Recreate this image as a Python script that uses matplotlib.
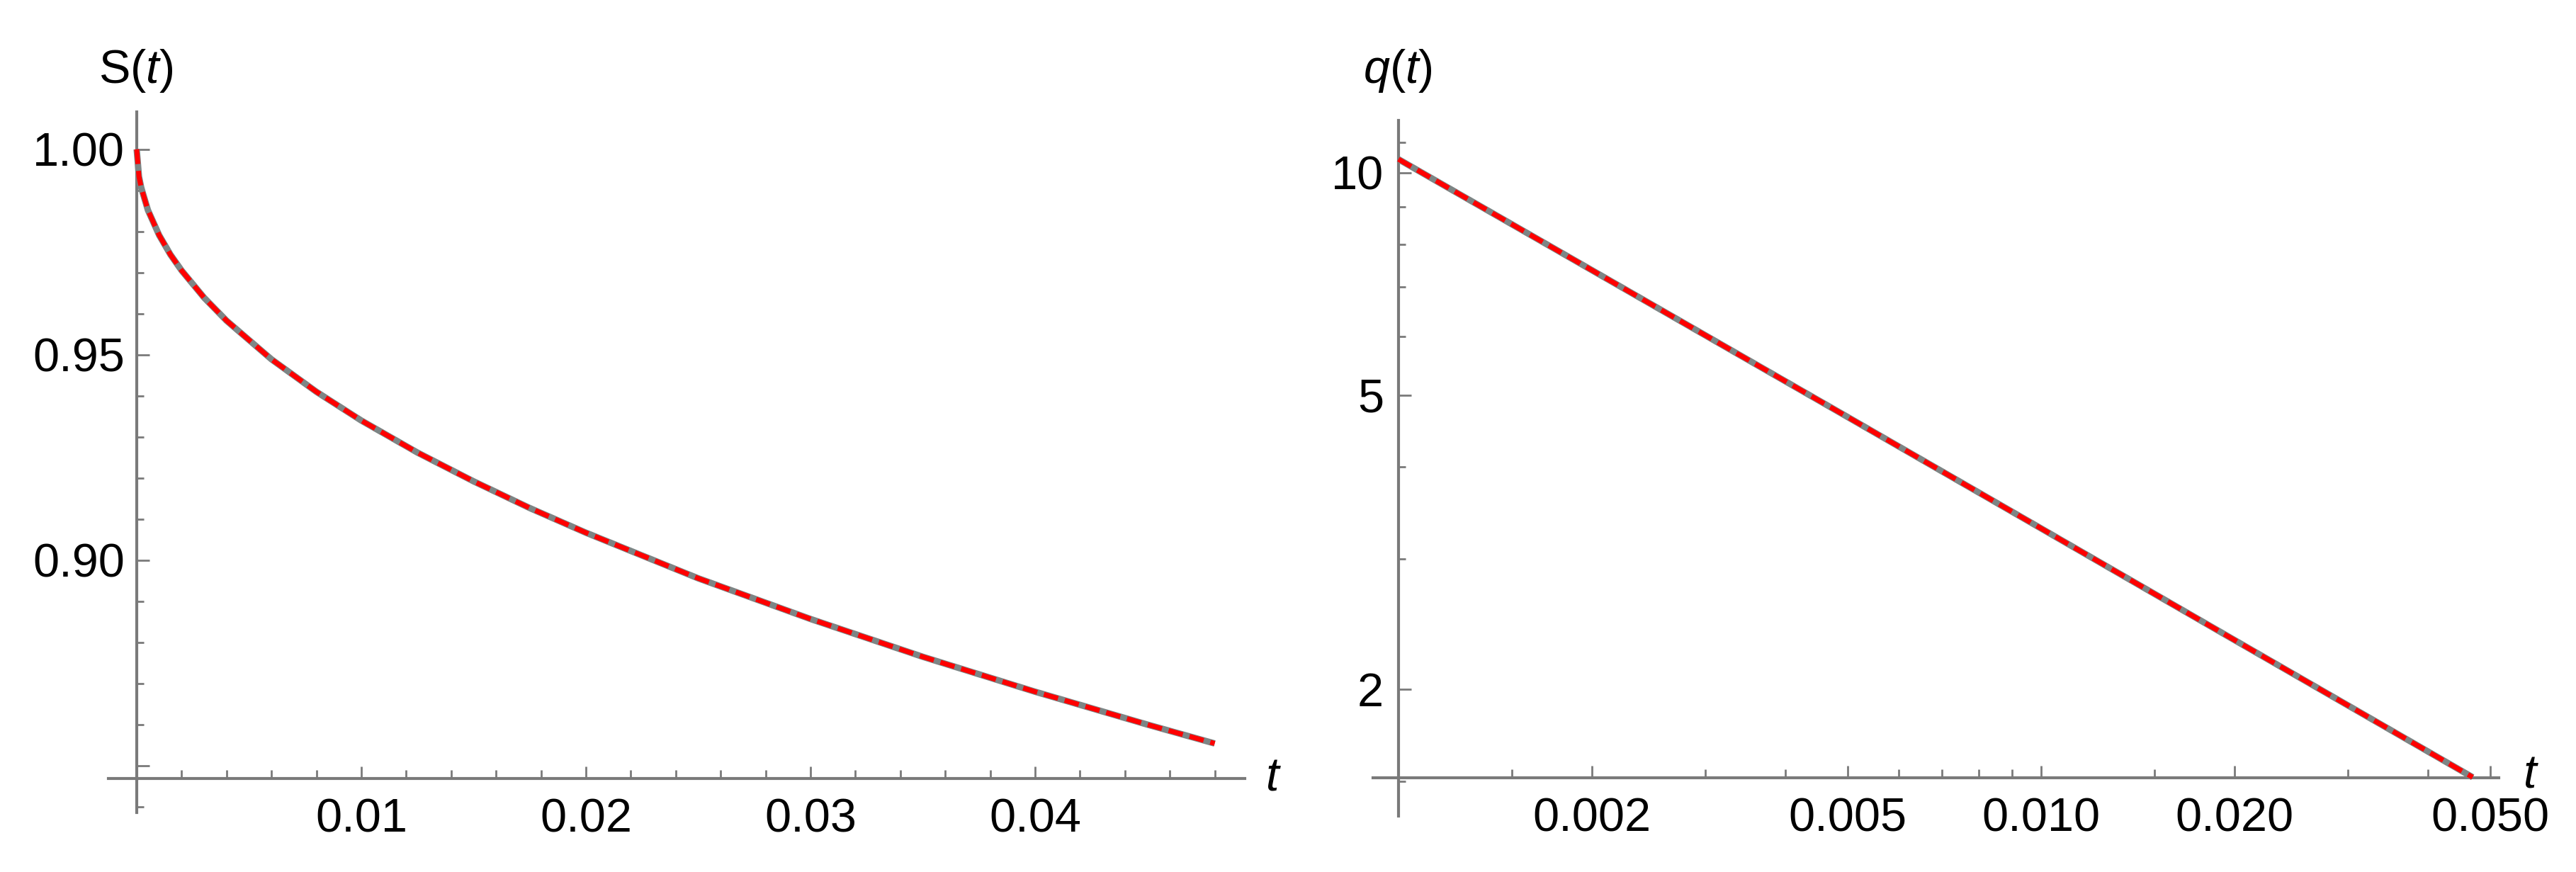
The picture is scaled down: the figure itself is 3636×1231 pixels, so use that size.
import matplotlib
matplotlib.use("Agg")
import matplotlib.pyplot as plt
from matplotlib.ticker import FixedLocator, NullFormatter

# ---------------- data ----------------
t_S = [0, 0.0001, 0.0002, 0.0005, 0.001, 0.0015, 0.002, 0.003, 0.004, 0.006,
       0.008, 0.010, 0.0125, 0.015, 0.0175, 0.020, 0.025, 0.030, 0.035,
       0.040, 0.045, 0.048]
S_vals = [1.000, 0.9934, 0.9907, 0.9852, 0.9791, 0.9744, 0.9705, 0.9639,
          0.9583, 0.9489, 0.9410, 0.9340, 0.9262, 0.9192, 0.9127, 0.9067,
          0.8956, 0.8857, 0.8765, 0.8680, 0.8600, 0.8554]

t_q = [0.001, 0.002, 0.005, 0.010, 0.020, 0.0469]
q_vals = [10.43, 7.38, 4.67, 3.30, 2.33, 1.52]

S_xticks = [0.01, 0.02, 0.03, 0.04]
S_xticklabels = ["0.01", "0.02", "0.03", "0.04"]
S_yticks = [0.85, 0.90, 0.95, 1.00]
S_yticklabels = ["", "0.90", "0.95", "1.00"]

q_xticks = [0.002, 0.005, 0.010, 0.020, 0.050]
q_xticklabels = ["0.002", "0.005", "0.010", "0.020", "0.050"]
q_xminor = [0.001, 0.0015, 0.003, 0.004, 0.006, 0.007, 0.008, 0.009,
            0.015, 0.03, 0.04]
q_yticks = [2, 5, 10]
q_yticklabels = ["2", "5", "10"]
q_yminor = [1.5, 3, 4, 6, 7, 8, 9, 11]

# ---------------- style ----------------
plt.rcParams['font.family'] = ['Liberation Sans', 'DejaVu Sans']
plt.rcParams['mathtext.fontset'] = 'custom'
plt.rcParams['mathtext.rm'] = 'Liberation Sans'
plt.rcParams['mathtext.it'] = 'Liberation Sans:italic'
plt.rcParams['lines.scale_dashes'] = False

W, H = 3637, 1231
DPI = 100
FS = 48
AX_COL = '#7a7a7a'
GRAY = '#7d8585'
RED = '#ff0000'

fig = plt.figure(figsize=(W / DPI, H / DPI), dpi=DPI)
fig.patch.set_facecolor('white')


def box(x0, y0, x1, y1):
    return [x0 / W, 1 - y1 / H, (x1 - x0) / W, (y1 - y0) / H]


def style_axes(ax, xcross, ycross):
    for s in ['top', 'right']:
        ax.spines[s].set_visible(False)
    ax.spines['left'].set_position(('data', xcross))
    ax.spines['bottom'].set_position(('data', ycross))
    for s in ['left', 'bottom']:
        ax.spines[s].set_color(AX_COL)
        ax.spines[s].set_linewidth(3.0)
    ax.tick_params(which='both', direction='in', color=AX_COL, width=2.0,
                   labelsize=FS, labelcolor='black')
    ax.tick_params(axis='x', which='major', length=12, pad=20)
    ax.tick_params(axis='x', which='minor', length=8.5)
    ax.tick_params(axis='y', which='major', length=13, pad=12)
    ax.tick_params(axis='y', which='minor', length=7)
    ax.patch.set_alpha(0)


def draw_curve(ax, x, y):
    ax.plot(x, y, color=GRAY, lw=6.5, solid_capstyle='butt', zorder=3,
            clip_on=False)
    ax.plot(x, y, color=RED, lw=5.0, dashes=(15, 7),
            dash_capstyle='butt', zorder=4, clip_on=False)


# ---------------- left panel: S(t) ----------------
ax1 = fig.add_axes(box(153, 158, 1757, 1147))
ax1.set_xlim(-0.00126, 0.04934)
ax1.set_ylim(0.8386, 1.0091)
style_axes(ax1, 0.0, 0.8469)
ax1.set_xticks(S_xticks, S_xticklabels)
ax1.xaxis.set_minor_locator(FixedLocator(
    [0.002 * k for k in range(1, 25) if k % 5 != 0]))
ax1.set_yticks(S_yticks, S_yticklabels)
ax1.yaxis.set_minor_locator(FixedLocator(
    [0.84, 0.86, 0.87, 0.88, 0.89, 0.91, 0.92, 0.93, 0.94, 0.96, 0.97,
     0.98, 0.99]))
draw_curve(ax1, t_S, S_vals)

fig.text(192 / W, 1 - 100 / H, r'$\mathrm{S(}t\mathrm{)}$', fontsize=FS,
         ha='center', va='center')
fig.text(1797 / W, 1 - 1098 / H, r'$t$', fontsize=FS, ha='center',
         va='center')

# ---------------- right panel: q(t) ----------------
ax2 = fig.add_axes(box(1938, 170, 3527, 1152))
ax2.set_xscale('log')
ax2.set_yscale('log')
ax2.set_xlim(0.000913, 0.0515)
ax2.set_ylim(1.347, 11.77)
style_axes(ax2, 0.001, 1.518)
ax2.set_xticks(q_xticks, q_xticklabels)
ax2.xaxis.set_minor_locator(FixedLocator(q_xminor))
ax2.xaxis.set_minor_formatter(NullFormatter())
ax2.set_yticks(q_yticks, q_yticklabels)
ax2.yaxis.set_minor_locator(FixedLocator(q_yminor))
ax2.yaxis.set_minor_formatter(NullFormatter())
ax2.tick_params(axis='y', which='major', pad=15)
draw_curve(ax2, t_q, q_vals)

fig.text(1973 / W, 1 - 100 / H, r'$q\mathrm{(}t\mathrm{)}$', fontsize=FS,
         ha='center', va='center')
fig.text(3572 / W, 1 - 1095 / H, r'$t$', fontsize=FS, ha='center',
         va='center')

fig.savefig('out.png', dpi=DPI, facecolor='white')
